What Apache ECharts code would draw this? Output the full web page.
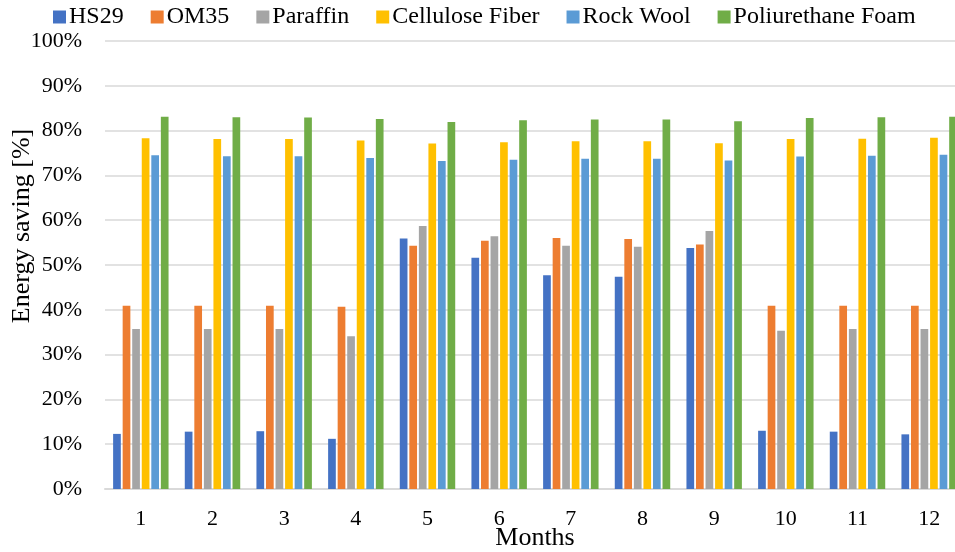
<!DOCTYPE html>
<html>
<head>
<meta charset="utf-8">
<title>Energy saving by month</title>
<script src="https://cdn.jsdelivr.net/npm/echarts@6/dist/echarts.min.js"></script>
<style>
  html, body { margin: 0; padding: 0; background: #fff; }
  #chart { width: 955px; height: 552px; }
</style>
</head>
<body>
<div id="chart"></div>
<script>
// Months on the category axis
const months = ['1', '2', '3', '4', '5', '6', '7', '8', '9', '10', '11', '12'];

// Monthly energy saving per insulation material, in percent
const hs29         = [12.3, 12.8, 12.9, 11.2, 55.9, 51.6, 47.7, 47.4, 53.8, 13.0, 12.8, 12.2];
const om35         = [40.9, 40.9, 40.9, 40.7, 54.3, 55.4, 56.0, 55.8, 54.6, 40.9, 40.9, 40.9];
const paraffin     = [35.7, 35.7, 35.7, 34.1, 58.7, 56.4, 54.3, 54.1, 57.6, 35.3, 35.7, 35.7];
const cellulose    = [78.3, 78.1, 78.1, 77.8, 77.1, 77.4, 77.6, 77.6, 77.2, 78.1, 78.2, 78.4];
const rockWool     = [74.5, 74.3, 74.3, 73.9, 73.2, 73.5, 73.7, 73.7, 73.3, 74.2, 74.4, 74.6];
const polyurethane = [83.1, 83.0, 82.9, 82.6, 81.9, 82.3, 82.5, 82.5, 82.1, 82.8, 83.0, 83.1];

// Y axis ticks
const yTicks = [0, 10, 20, 30, 40, 50, 60, 70, 80, 90, 100];

const seriesDefs = [
  { name: 'HS29', data: hs29, color: '#4472C4' },
  { name: 'OM35', data: om35, color: '#ED7D31' },
  { name: 'Paraffin', data: paraffin, color: '#A5A5A5' },
  { name: 'Cellulose Fiber', data: cellulose, color: '#FFC000' },
  { name: 'Rock Wool', data: rockWool, color: '#5B9BD5' },
  { name: 'Poliurethane Foam', data: polyurethane, color: '#70AD47' }
];

const FONT = '"Liberation Serif", "Times New Roman", serif';

const chart = echarts.init(document.getElementById('chart'), null, { renderer: 'canvas' });

chart.setOption({
  animation: false,
  backgroundColor: '#ffffff',
  textStyle: { fontFamily: FONT, color: '#000' },
  legend: {
    left: 48,
    top: 0,
    itemWidth: 13,
    itemHeight: 13,
    itemGap: 27,
    icon: 'rect',
    textStyle: { fontFamily: FONT, fontSize: 24, color: '#000', padding: [0, 0, 0, -2] },
    data: seriesDefs.map(s => s.name)
  },
  grid: {
    left: 105,
    top: 41,
    width: 860,
    height: 448,
    containLabel: false,
    outerBoundsMode: 'none'
  },
  xAxis: {
    type: 'category',
    data: months,
    name: 'Months',
    nameLocation: 'middle',
    nameGap: 36,
    nameMoveOverlap: false,
    nameTextStyle: { fontFamily: FONT, fontSize: 26, color: '#000' },
    axisLine: { show: true, lineStyle: { color: '#D9D9D9', width: 2 } },
    axisTick: { show: false },
    axisLabel: { fontFamily: FONT, fontSize: 22, color: '#000', margin: 19 }
  },
  yAxis: {
    type: 'value',
    min: yTicks[0],
    max: yTicks[yTicks.length - 1],
    interval: 10,
    axisLine: { show: false },
    axisTick: { show: false },
    axisLabel: {
      fontFamily: FONT,
      fontSize: 22,
      color: '#000',
      margin: 23,
      formatter: v => v + '%'
    },
    splitLine: { show: true, lineStyle: { color: '#D9D9D9', width: 1.5 } }
  },
  graphic: [{
    type: 'text',
    x: 22,
    y: 226,
    rotation: Math.PI / 2,
    style: {
      text: 'Energy saving [%]',
      font: '26px ' + FONT,
      fill: '#000',
      textAlign: 'center',
      textVerticalAlign: 'middle'
    }
  }],
  series: seriesDefs.map(s => ({
    name: s.name,
    type: 'bar',
    data: s.data,
    barWidth: 7.7,
    barGap: '24%',
    itemStyle: { color: s.color }
  }))
});
</script>
</body>
</html>
